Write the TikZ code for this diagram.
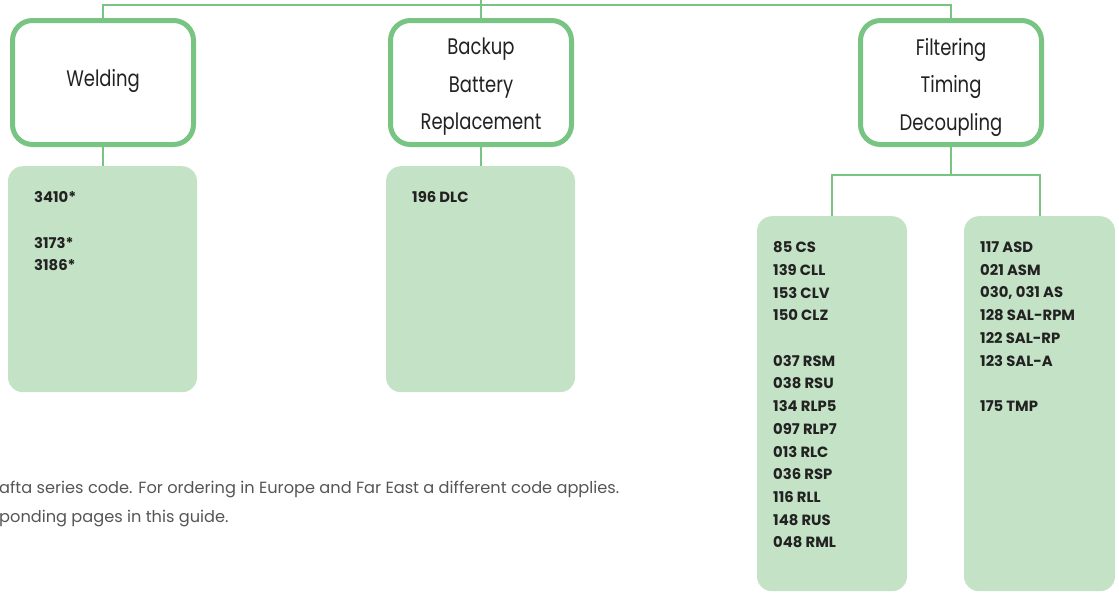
\documentclass[tikz,border=0pt]{standalone}
\usepackage{fontspec}
\setmainfont{Poppins}[FakeStretch=0.8]
\newfontfamily\codefont{Poppins}
\newfontfamily\notefont{Poppins}
\definecolor{gline}{HTML}{77C483}
\definecolor{gfill}{HTML}{C4E2C5}
\definecolor{ink}{HTML}{222222}
\definecolor{note}{HTML}{555555}
\tikzset{
  titlebox/.style={draw=gline, line width=5pt, fill=white, rounded corners=20pt,
    minimum width=181pt, minimum height=124pt, inner sep=0pt},
  titletext/.style={inner sep=0pt, align=center, text=ink,
    font={\fontsize{22.5}{37.5}\selectfont}},
  panel/.style={fill=gfill, rounded corners=15pt, inner sep=0pt},
  codes/.style={anchor=north west, inner sep=0pt, align=left, text=ink,
    font={\codefont\bfseries\fontsize{14.8}{22.7}\selectfont}},
  conn/.style={draw=gline, line width=2pt},
  notetext/.style={anchor=base west, inner sep=0pt, text=note,
    font={\notefont\fontsize{16.2}{20}\selectfont}}
}
\begin{document}
\begin{tikzpicture}[x=1pt,y=-1pt]
\useasboundingbox (0,0) rectangle (1119,592);
% panels
\node[panel, minimum width=189pt, minimum height=226pt, anchor=north] (p1) at (102.5,166) {};
\node[panel, minimum width=189pt, minimum height=226pt, anchor=north] (p2) at (480.5,166) {};
\node[panel, minimum width=150pt, minimum height=375pt, anchor=north] (p3) at (832,216) {};
\node[panel, minimum width=151pt, minimum height=375pt, anchor=north] (p4) at (1039.5,216) {};
% title boxes
\node[titlebox] (w) at (103,82.5) {};
\node[titlebox] (b) at (481,82.5) {};
\node[titlebox] (f) at (951,82.5) {};
\node[titletext] (wt) at (103,80.5) {Welding};
\node[titletext] (bt) at (481,87) {Backup\\Battery\\Replacement};
\node[titletext] (ft) at (951,87) {Filtering\\Timing\\Decoupling};
% connectors
\coordinate (root) at (481,0);
\coordinate (bus) at (481,5);
\coordinate (split) at (951,175);
\draw[conn] (root) -- (b.north);
\draw[conn] (w.north) |- (bus) -| (f.north);
\draw[conn] (w.south) -- (w.south |- p1.north);
\draw[conn] (b.south) -- (b.south |- p2.north);
\draw[conn] (f.south) -- (split);
\draw[conn] (p3.north) |- (split) -| (p4.north);
% codes
\node[codes] (c1) at (34,191.5) {3410*\\[22.7pt]3173*\\3186*};
\node[codes] (c2) at (412,191.5) {196 DLC};
\node[codes] (c3) at (773,241.5) {85 CS\\139 CLL\\153 CLV\\150 CLZ\\[22.7pt]037 RSM\\038 RSU\\134 RLP5\\097 RLP7\\013 RLC\\036 RSP\\116 RLL\\148 RUS\\048 RML};
\node[codes] (c4) at (980,241.5) {117 ASD\\021 ASM\\030, 031 AS\\128 SAL-RPM\\122 SAL-RP\\123 SAL-A\\[22.7pt]175 TMP};
% footnote
\node[notetext] (n1) at (-1,493) {afta series code. For ordering in Europe and Far East a different code applies.};
\node[notetext] (n2) at (-1,522) {ponding pages in this guide.};
\end{tikzpicture}
\end{document}
